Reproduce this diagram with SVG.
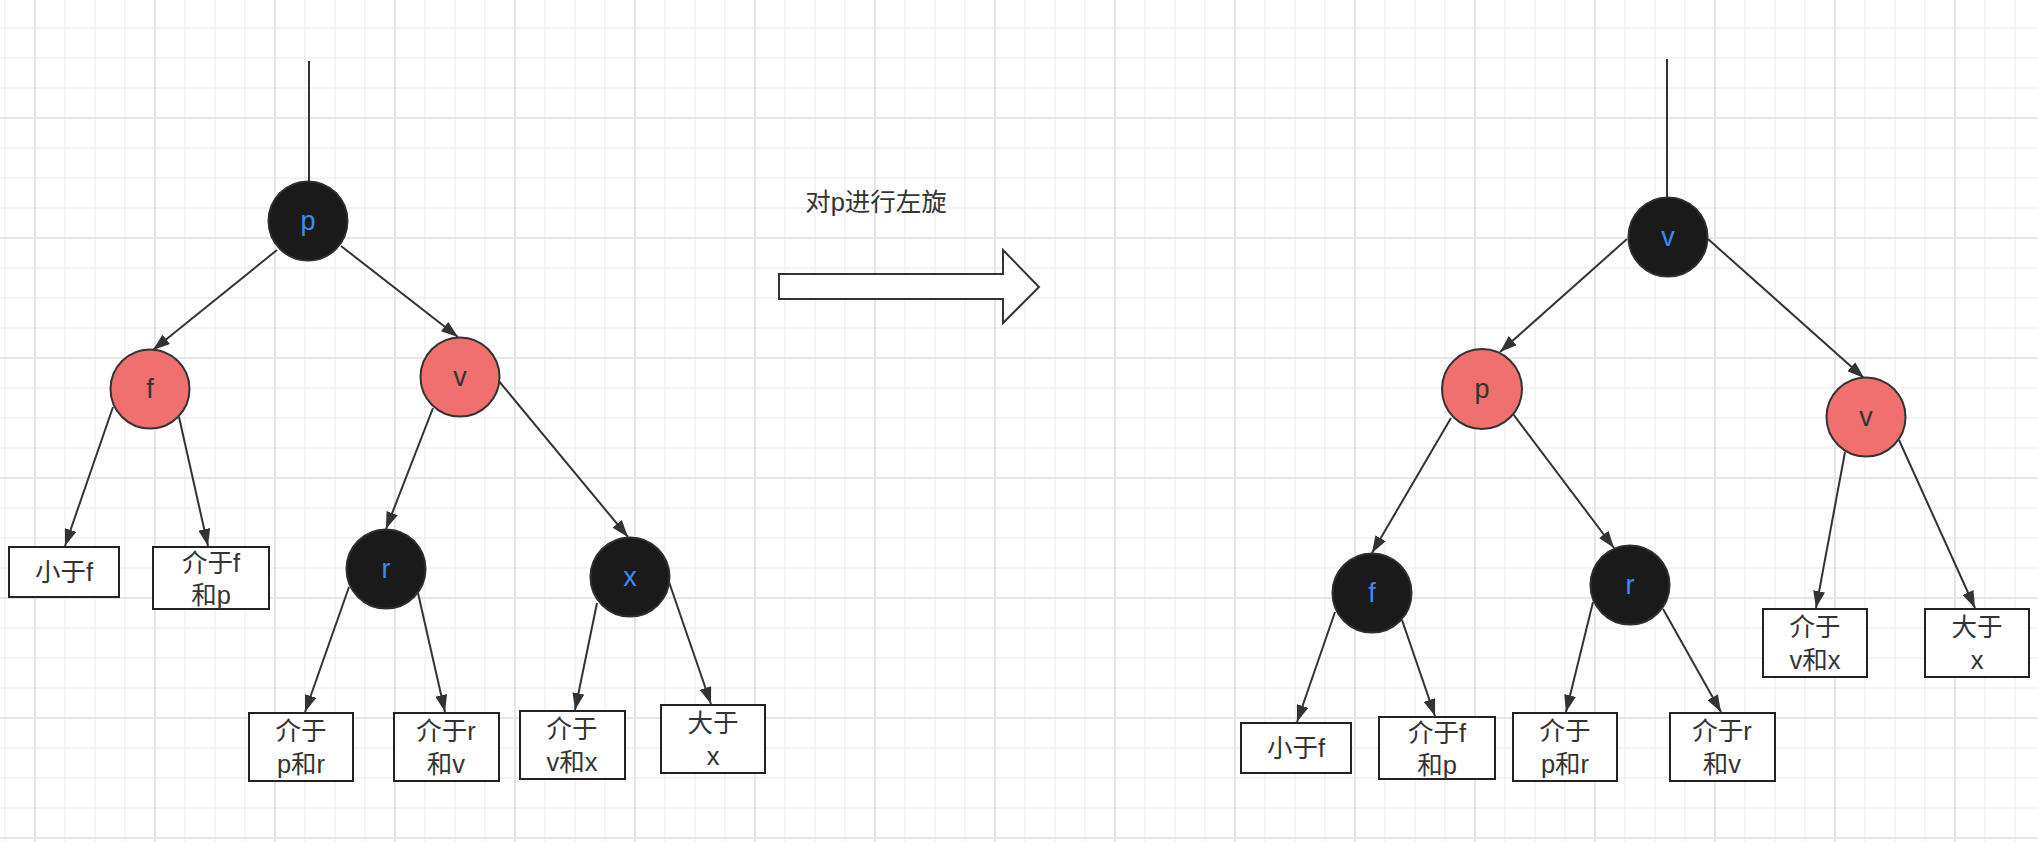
<svg xmlns="http://www.w3.org/2000/svg" width="2038" height="842" viewBox="0 0 2038 842">
<style>
.edge{stroke:#333;stroke-width:2;fill:none}
.arr{marker-end:url(#ah)}
.red{fill:#ef706c;stroke:#333;stroke-width:2}
.blk{fill:#1a1a1a;stroke:#2e2e2e;stroke-width:2}
.box{fill:#fff;stroke:#222;stroke-width:2}
text{font-family:"Liberation Sans","Noto Sans CJK SC",sans-serif;font-size:25.5px;text-anchor:middle;dominant-baseline:central;fill:#333}
.nl{font-size:27px}
.bl{fill:#3b8cf0}
.minor{stroke:#f1f1f1;stroke-width:1.3}
.major{stroke:#e6e6e6;stroke-width:2}
</style>
<defs>
<pattern id="grid" patternUnits="userSpaceOnUse" x="34" y="-3" width="120" height="120">
<rect width="120" height="120" fill="#fff"/>
<line class="minor" x1="31" y1="0" x2="31" y2="120"/>
<line class="minor" x1="61" y1="0" x2="61" y2="120"/>
<line class="minor" x1="91" y1="0" x2="91" y2="120"/>
<line class="minor" x1="0" y1="31" x2="120" y2="31"/>
<line class="minor" x1="0" y1="61" x2="120" y2="61"/>
<line class="minor" x1="0" y1="91" x2="120" y2="91"/>
<line class="major" x1="1" y1="0" x2="1" y2="120"/>
<line class="major" x1="0" y1="1" x2="120" y2="1"/>
</pattern>
<marker id="ah" markerUnits="userSpaceOnUse" markerWidth="17" markerHeight="12" refX="17" refY="6" orient="auto">
<path d="M0,0 L17,6 L0,12 Z" fill="#333"/>
</marker>
</defs>
<rect width="2038" height="842" fill="url(#grid)"/>

<g id="connectors">
<line class="edge" x1="309" y1="61" x2="309" y2="182"/>
<line class="edge arr" x1="277" y1="250" x2="153" y2="350"/>
<line class="edge arr" x1="341" y1="246" x2="458" y2="337"/>
<line class="edge arr" x1="113" y1="407" x2="65" y2="546"/>
<line class="edge arr" x1="179" y1="417" x2="208" y2="546"/>
<line class="edge arr" x1="433" y1="408" x2="386" y2="529"/>
<line class="edge arr" x1="498" y1="380" x2="628" y2="537"/>
<line class="edge arr" x1="349" y1="587" x2="305" y2="712"/>
<line class="edge arr" x1="418" y1="593" x2="445" y2="712"/>
<line class="edge arr" x1="597" y1="603" x2="575" y2="710"/>
<line class="edge arr" x1="669" y1="582" x2="711" y2="704"/>

<line class="edge" x1="1667" y1="59" x2="1667" y2="198"/>
<line class="edge arr" x1="1627" y1="239" x2="1500" y2="352"/>
<line class="edge arr" x1="1708" y1="239" x2="1864" y2="378"/>
<line class="edge arr" x1="1451" y1="418" x2="1372" y2="553"/>
<line class="edge arr" x1="1513" y1="414" x2="1614" y2="548"/>
<line class="edge arr" x1="1335" y1="612" x2="1297" y2="722"/>
<line class="edge arr" x1="1402" y1="620" x2="1435" y2="716"/>
<line class="edge arr" x1="1593" y1="602" x2="1566" y2="712"/>
<line class="edge arr" x1="1663" y1="609" x2="1721" y2="712"/>
<line class="edge arr" x1="1845" y1="452" x2="1816" y2="608"/>
<line class="edge arr" x1="1899" y1="440" x2="1975" y2="608"/>
</g>

<g id="L-p"><circle class="blk" cx="308" cy="221" r="39.5"/><text class="nl bl" x="308" y="221">p</text></g>
<g id="L-f"><circle class="red" cx="150" cy="389" r="39.5"/><text class="nl" x="150" y="389">f</text></g>
<g id="L-v"><circle class="red" cx="460" cy="377" r="39.5"/><text class="nl" x="460" y="377">v</text></g>
<g id="L-r"><circle class="blk" cx="386" cy="569" r="39.5"/><text class="nl bl" x="386" y="569">r</text></g>
<g id="L-x"><circle class="blk" cx="630" cy="577" r="39.5"/><text class="nl bl" x="630" y="577">x</text></g>

<g id="L-b1"><rect class="box" x="9" y="547" width="110" height="50"/><text x="64" y="572">小于f</text></g>
<g id="L-b2"><rect class="box" x="153" y="547" width="116" height="62"/><text x="211" y="563">介于f</text><text x="211" y="595">和p</text></g>
<g id="L-b3"><rect class="box" x="249" y="713" width="104" height="68"/><text x="301" y="731">介于</text><text x="301" y="764">p和r</text></g>
<g id="L-b4"><rect class="box" x="394" y="713" width="105" height="68"/><text x="446" y="731">介于r</text><text x="446" y="764">和v</text></g>
<g id="L-b5"><rect class="box" x="520" y="711" width="105" height="68"/><text x="572" y="729">介于</text><text x="572" y="762">v和x</text></g>
<g id="L-b6"><rect class="box" x="661" y="705" width="104" height="68"/><text x="713" y="723">大于</text><text x="713" y="756">x</text></g>

<g id="rotate-arrow">
<polygon points="779,274 1003,274 1003,250 1039,287 1003,323 1003,299 779,299" fill="#fff" stroke="#333" stroke-width="2"/>
<text x="876" y="202">对p进行左旋</text>
</g>

<g id="R-v"><circle class="blk" cx="1668" cy="237" r="39.5"/><text class="nl bl" x="1668" y="237">v</text></g>
<g id="R-p"><circle class="red" cx="1482" cy="389" r="40"/><text class="nl" x="1482" y="389">p</text></g>
<g id="R-v2"><circle class="red" cx="1866" cy="417" r="39.5"/><text class="nl" x="1866" y="417">v</text></g>
<g id="R-f"><circle class="blk" cx="1372" cy="593" r="39.5"/><text class="nl bl" x="1372" y="593">f</text></g>
<g id="R-r"><circle class="blk" cx="1630" cy="585" r="39.5"/><text class="nl bl" x="1630" y="585">r</text></g>

<g id="R-b1"><rect class="box" x="1241" y="723" width="110" height="50"/><text x="1296" y="748">小于f</text></g>
<g id="R-b2"><rect class="box" x="1379" y="717" width="116" height="62"/><text x="1437" y="733">介于f</text><text x="1437" y="765">和p</text></g>
<g id="R-b3"><rect class="box" x="1513" y="713" width="104" height="68"/><text x="1565" y="731">介于</text><text x="1565" y="764">p和r</text></g>
<g id="R-b4"><rect class="box" x="1670" y="713" width="105" height="68"/><text x="1722" y="731">介于r</text><text x="1722" y="764">和v</text></g>
<g id="R-b5"><rect class="box" x="1763" y="609" width="104" height="68"/><text x="1815" y="627">介于</text><text x="1815" y="660">v和x</text></g>
<g id="R-b6"><rect class="box" x="1925" y="609" width="104" height="68"/><text x="1977" y="627">大于</text><text x="1977" y="660">x</text></g>
</svg>
